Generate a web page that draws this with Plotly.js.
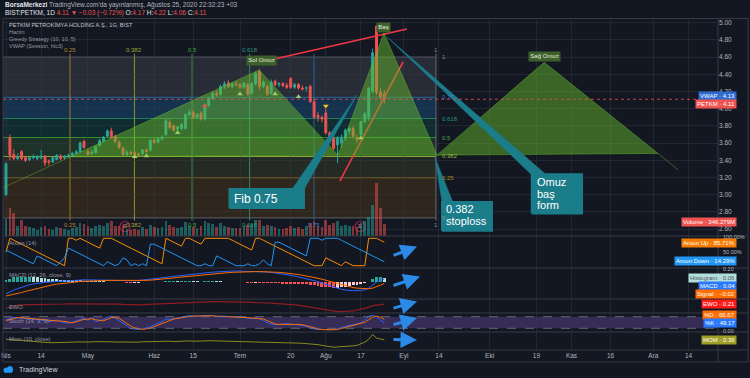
<!DOCTYPE html>
<html><head><meta charset="utf-8">
<script src="https://cdn.plot.ly/plotly-3.0.1.min.js"></script>
<style>html,body{margin:0;padding:0;background:#131722;overflow:hidden}#chart{width:750px;height:378px}</style>
</head><body><div id="chart"></div>
<script>
// ---------------- DATA ----------------
const openP = [3.00,3.66,3.47,3.42,3.50,3.43,3.41,3.43,3.42,3.43,
 3.45,3.39,3.38,3.41,3.45,3.43,3.44,3.46,3.48,3.50,
 3.62,3.50,3.48,3.49,3.57,3.62,3.68,3.74,3.68,3.61,
 3.54,3.47,3.49,3.49,3.47,3.48,3.52,3.52,3.63,3.61,
 3.65,3.70,3.84,3.80,3.76,3.77,3.77,3.93,3.96,3.90,
 3.95,3.88,4.04,4.12,4.18,4.17,4.26,4.30,4.26,4.29,
 4.28,4.25,4.28,4.18,4.29,4.43,4.26,4.26,4.18,4.32,
 4.28,4.29,4.27,4.35,4.25,4.28,4.24,4.24,4.26,4.08,
 3.92,3.90,3.95,3.72,3.66,3.58,3.60,3.66,3.74,3.77,
 3.66,3.70,3.85,3.90,4.20,4.96,4.19,4.17];
const highP = [3.38,3.70,3.53,3.48,3.52,3.45,3.45,3.47,3.46,3.52,
 3.46,3.41,3.44,3.47,3.47,3.46,3.47,3.50,3.52,3.62,
 3.64,3.53,3.52,3.57,3.65,3.68,3.76,3.78,3.70,3.63,
 3.56,3.52,3.51,3.50,3.49,3.53,3.54,3.65,3.66,3.67,
 3.69,3.88,3.88,3.82,3.80,3.83,3.95,3.99,3.98,3.95,
 3.97,4.06,4.14,4.20,4.21,4.28,4.32,4.33,4.31,4.32,
 4.30,4.31,4.30,4.31,4.43,4.46,4.33,4.28,4.34,4.34,
 4.31,4.31,4.30,4.37,4.30,4.30,4.27,4.26,4.28,4.12,
 3.96,3.92,4.00,3.74,3.68,3.68,3.70,3.77,3.79,3.80,
 3.70,3.86,3.96,4.25,4.70,4.97,4.24,4.22];
const lowP = [2.98,3.40,3.40,3.40,3.40,3.38,3.39,3.41,3.40,3.41,
 3.33,3.34,3.37,3.40,3.40,3.41,3.43,3.45,3.47,3.49,
 3.53,3.45,3.46,3.48,3.56,3.61,3.67,3.65,3.60,3.53,
 3.45,3.45,3.46,3.45,3.44,3.46,3.49,3.50,3.59,3.60,
 3.63,3.68,3.76,3.73,3.74,3.75,3.76,3.91,3.88,3.88,
 3.86,3.86,4.02,4.10,4.14,4.15,4.23,4.24,4.24,4.26,
 4.23,4.23,4.15,4.16,4.27,4.22,4.24,4.15,4.16,4.26,
 4.25,4.25,4.23,4.23,4.23,4.22,4.21,4.20,4.07,3.88,
 3.85,3.84,3.70,3.65,3.52,3.37,3.55,3.63,3.70,3.66,
 3.60,3.68,3.83,3.86,4.18,4.16,4.10,4.06];
const closeP = [3.36,3.46,3.42,3.44,3.42,3.40,3.43,3.44,3.44,3.45,
 3.37,3.38,3.43,3.46,3.42,3.45,3.46,3.48,3.50,3.60,
 3.55,3.47,3.49,3.56,3.63,3.67,3.74,3.67,3.62,3.55,
 3.47,3.49,3.48,3.47,3.46,3.52,3.50,3.63,3.61,3.65,
 3.67,3.86,3.78,3.75,3.79,3.82,3.93,3.96,3.90,3.93,
 3.88,4.04,4.12,4.18,4.16,4.26,4.29,4.26,4.29,4.28,
 4.25,4.30,4.17,4.29,4.41,4.26,4.31,4.17,4.31,4.28,
 4.29,4.27,4.25,4.25,4.28,4.24,4.23,4.24,4.08,3.90,
 3.90,3.88,3.72,3.67,3.54,3.66,3.67,3.75,3.77,3.68,
 3.64,3.85,3.94,4.24,4.65,4.19,4.14,4.11];
const volumeM = [500,800,660,280,460,300,250,220,180,260,
 300,200,180,250,230,200,180,220,260,380,
 350,280,220,300,330,300,380,420,300,280,
 320,200,180,200,170,250,200,320,250,230,
 260,420,330,250,220,260,400,300,260,220,
 280,420,380,350,260,380,300,260,240,220,
 230,300,330,360,450,470,300,330,300,260,
 200,210,230,300,220,250,200,300,380,420,
 300,260,450,320,380,420,300,330,280,300,
 260,380,420,560,890,1530,800,346];
const aroonUp = [50,100,92.86,85.71,78.57,71.43,64.29,57.14,50,42.86,
 35.71,28.57,21.43,14.29,7.14,0,100,100,92.86,100,
 92.86,85.71,78.57,71.43,64.29,100,100,100,92.86,85.71,
 78.57,71.43,64.29,57.14,50,42.86,35.71,28.57,21.43,14.29,
 7.14,100,92.86,85.71,78.57,71.43,100,100,92.86,85.71,
 78.57,100,100,100,100,100,100,100,92.86,85.71,
 78.57,71.43,64.29,57.14,100,100,92.86,85.71,78.57,71.43,
 64.29,57.14,50,42.86,35.71,28.57,21.43,14.29,7.14,0,
 0,0,28.57,21.43,14.29,7.14,0,14.29,7.14,0,
 0,0,0,100,100,100,92.86,85.71];
const aroonDown = [57.14,50,42.86,35.71,28.57,21.43,14.29,7.14,35.71,28.57,
 21.43,14.29,7.14,0,14.29,28.57,64.29,57.14,50,42.86,
 35.71,28.57,21.43,14.29,7.14,0,14.29,7.14,0,7.14,
 28.57,21.43,0,7.14,0,7.14,0,78.57,78.57,71.43,
 64.29,57.14,50,42.86,35.71,28.57,21.43,14.29,7.14,0,
 0,7.14,0,0,35.71,28.57,21.43,14.29,7.14,0,
 0,0,7.14,0,0,7.14,21.43,7.14,0,85.71,
 85.71,78.57,71.43,64.29,57.14,50,42.86,35.71,100,100,
 100,92.86,100,100,100,100,92.86,85.71,78.57,71.43,
 64.29,57.14,50,42.86,35.71,28.57,21.43,14.29];
const macdLine = [-0.17,-0.14,-0.115,-0.095,-0.075,-0.055,-0.04,-0.028,-0.018,-0.01,
 -0.004,0.0,0.004,0.008,0.012,0.018,0.024,0.028,0.03,0.031,
 0.031,0.03,0.03,0.031,0.033,0.032,0.029,0.025,0.022,0.02,
 0.018,0.017,0.017,0.018,0.021,0.026,0.032,0.038,0.045,0.052,
 0.06,0.068,0.075,0.082,0.088,0.094,0.1,0.106,0.112,0.118,
 0.124,0.13,0.135,0.14,0.145,0.149,0.152,0.155,0.157,0.157,
 0.156,0.155,0.153,0.152,0.153,0.152,0.148,0.143,0.137,0.13,
 0.122,0.113,0.104,0.094,0.084,0.073,0.062,0.05,0.036,0.02,
 0.003,-0.015,-0.035,-0.055,-0.075,-0.09,-0.105,-0.115,-0.122,-0.125,
 -0.124,-0.12,-0.112,-0.09,-0.05,0.0,0.025,0.04];
const signalLine = [-0.20,-0.19,-0.18,-0.165,-0.15,-0.135,-0.12,-0.105,-0.09,-0.076,
 -0.063,-0.051,-0.04,-0.031,-0.023,-0.016,-0.009,-0.003,0.002,0.007,
 0.011,0.014,0.017,0.019,0.021,0.023,0.024,0.024,0.024,0.023,
 0.022,0.021,0.02,0.02,0.02,0.021,0.023,0.026,0.03,0.035,
 0.04,0.046,0.052,0.058,0.065,0.071,0.077,0.083,0.089,0.095,
 0.1,0.106,0.111,0.116,0.121,0.126,0.13,0.134,0.138,0.141,
 0.143,0.145,0.146,0.147,0.148,0.148,0.148,0.147,0.145,0.142,
 0.138,0.133,0.128,0.121,0.114,0.106,0.097,0.088,0.078,0.066,
 0.053,0.04,0.025,0.009,-0.008,-0.024,-0.04,-0.055,-0.068,-0.079,
 -0.088,-0.094,-0.098,-0.097,-0.088,-0.07,-0.045,-0.02];
const macdHist = [0.03,0.05,0.065,0.07,0.075,0.078,0.078,0.075,0.07,0.064,
 0.057,0.05,0.044,0.039,0.035,0.033,0.031,0.029,0.026,0.023,
 0.02,0.016,0.013,0.011,0.01,0.008,0.005,0.002,-0.002,-0.004,
 -0.006,-0.008,-0.009,-0.009,-0.008,-0.006,-0.004,-0.002,0.001,0.003,
 0.005,0.008,0.009,0.009,0.008,0.008,0.009,0.01,0.009,0.008,
 0.007,0.008,0.009,0.01,0.009,0.008,0.006,0.004,0.002,-0.001,
 -0.004,-0.006,-0.009,-0.01,-0.009,-0.01,-0.012,-0.015,-0.017,-0.019,
 -0.021,-0.022,-0.023,-0.024,-0.026,-0.028,-0.031,-0.035,-0.042,-0.05,
 -0.058,-0.066,-0.073,-0.078,-0.08,-0.079,-0.074,-0.066,-0.056,-0.046,
 -0.036,-0.026,-0.014,0.006,0.038,0.068,0.072,0.06];
const ewoVals = [0.02,0.08,0.12,0.16,0.18,0.19,0.19,0.19,0.19,0.2,
 0.2,0.2,0.21,0.21,0.22,0.22,0.23,0.23,0.24,0.24,
 0.24,0.24,0.23,0.23,0.22,0.22,0.22,0.22,0.21,0.21,
 0.2,0.19,0.18,0.175,0.18,0.19,0.2,0.21,0.21,0.22,
 0.23,0.24,0.25,0.25,0.26,0.26,0.27,0.28,0.29,0.3,
 0.31,0.32,0.33,0.335,0.34,0.34,0.34,0.34,0.335,0.33,
 0.325,0.32,0.31,0.3,0.3,0.29,0.28,0.27,0.26,0.25,
 0.24,0.23,0.22,0.2,0.18,0.16,0.13,0.1,0.07,0.04,
 0.0,-0.04,-0.08,-0.11,-0.14,-0.16,-0.16,-0.155,-0.14,-0.125,
 -0.09,-0.05,-0.01,0.05,0.14,0.17,0.19,0.21];
const stochK = [62,72,77,75,73,72,70,68,66,65,
 60,55,58,62,54,50,46,52,60,68,
 72,62,75,54,58,65,78,82,72,58,
 44,30,20,16,14,16,20,28,38,46,
 54,68,66,70,76,78,82,85,83,84,
 82,85,86,84,80,82,83,80,81,80,
 78,76,72,70,74,70,60,48,42,38,
 40,43,44,42,40,38,35,30,22,16,
 14,13,12,12,13,18,25,30,35,38,
 42,48,62,82,88,80,62,49.17];
const stochD = [60,65,70,75,75,73,72,70,68,66,
 64,60,58,58,58,55,50,49,53,60,
 67,67,70,64,62,59,67,75,77,71,
 58,44,31,22,17,15,17,21,29,37,
 46,56,63,68,71,75,79,82,83,84,
 83,84,84,85,83,82,82,82,81,80,
 80,78,75,73,72,71,68,59,50,43,
 40,40,42,43,42,40,38,34,29,23,
 17,14,13,12,12,14,19,24,30,34,
 38,43,51,64,77,83,77,66.67];
const momVals = [0.45,0.40,0.38,0.35,0.30,0.25,0.20,0.12,0.05,0.0,
 -0.03,-0.02,-0.03,0.0,-0.02,-0.03,0.0,0.02,0.05,0.08,
 0.07,0.04,0.08,0.12,0.14,0.16,0.13,0.10,0.07,0.05,
 0.03,0.04,0.06,0.07,0.05,0.10,0.12,0.17,0.18,0.21,
 0.24,0.26,0.18,0.13,0.17,0.22,0.24,0.22,0.18,0.16,
 0.18,0.22,0.25,0.24,0.22,0.24,0.22,0.19,0.17,0.15,
 0.13,0.12,0.07,0.10,0.12,0.08,0.06,0.03,0.05,0.02,
 -0.01,-0.03,-0.02,-0.04,-0.06,-0.09,-0.11,-0.14,-0.18,-0.24,
 -0.30,-0.40,-0.50,-0.58,-0.66,-0.62,-0.60,-0.55,-0.50,-0.47,
 -0.40,-0.20,0.05,0.45,1.11,0.62,0.45,0.36];

// time axis (bar index of each label) and price ticks
const tickIdx  = [0,9,21,38,48,60,73,82,91,102,111,124,136,145,155,166,175];
const tickText = ['Nis','14','May','Haz','15','Tem','20','Ağu','17','Eyl','14','Eki','19','Kas','16','Ara','14'];
const priceTicks = [2.6,2.8,3.0,3.2,3.4,3.6,3.8,4.0,4.2,4.4,4.6,4.8,5.0];

// drawings (bar index / price)
const fibRatios = [0,0.25,0.382,0.5,0.618,0.75,1];
const fibLowPrice = 2.73, fibHighPrice = 4.60;
const fibTimeRatios = [0.25,0.382,0.5,0.618,0.75,1];
const fibTimeStart = -14.87, fibTimeEnd = 110.26;
const hsX = [16.4,64.9,85.1,96.9,110.5,138.0,167.2];
const hsY = [3.44,4.45,3.46,4.88,3.46,4.54,3.48];
const hsLeadX = [-0.8,16.4], hsLeadY = [3.08,3.44];
const hsTailX = [167.2,172.3], hsTailY = [3.48,3.29];
const trendAX = [67.7,102.8], trendAY = [4.566,4.927];
const trendBX = [85.6,101.8], trendBY = [3.159,4.543];
const greedyUpIdx = [33,36,44,60,69,75,91], greedyUpPrice = [3.44,3.45,3.72,4.17,4.17,4.14,3.66];
const greedyDnIdx = [51], greedyDnPrice = [4.03];
const greedyWarnIdx = [82], greedyWarnPrice = [4.03];
const earnIdx = [30.5,90.8], earnPrice = [2.63,2.63];
const lastPrice = 4.11;

// ---------------- helpers ----------------
const W = 750, H = 378;
const px = v => v / W, py = v => 1 - v / H;
const bars = openP.map((_, i) => i);
const FONT = 'Liberation Sans, Arial, sans-serif';
const GRAY = '#b2b5be', DIM = '#9598a1';
const GRID = 'rgba(54,58,69,0.45)';

const traces = [];
traces.push({type:'bar', x:bars, y:volumeM, xaxis:'x', yaxis:'y7', width:0.7,
  marker:{color: bars.map(i => closeP[i] >= openP[i] ? 'rgba(38,166,154,0.5)' : 'rgba(239,83,80,0.5)'), line:{width:0}}});
traces.push({type:'candlestick', x:bars, open:openP, high:highP, low:lowP, close:closeP, xaxis:'x', yaxis:'y',
  whiskerwidth:0,
  increasing:{line:{color:'#26a69a', width:1}, fillcolor:'#26a69a'},
  decreasing:{line:{color:'#ef5350', width:1}, fillcolor:'#ef5350'}});
traces.push({type:'scatter', mode:'lines', x:trendAX, y:trendAY, line:{color:'#f23645', width:1.6}, xaxis:'x', yaxis:'y'});
traces.push({type:'scatter', mode:'lines', x:trendBX, y:trendBY, line:{color:'#f23645', width:1.6}, xaxis:'x', yaxis:'y'});
const triX = [], triY = [];
for (let k = 0; k + 2 < hsX.length; k += 2) {
  triX.push(hsX[k], hsX[k+1], hsX[k+2], hsX[k], null);
  triY.push(hsY[k], hsY[k+1], hsY[k+2], hsY[k], null);
}
const HSFILL = 'rgba(105,190,45,0.47)';
traces.push({type:'scatter', mode:'lines', x:triX, y:triY, fill:'toself', fillcolor:HSFILL,
  line:{color:'rgba(105,190,45,0.55)', width:0.8}, connectgaps:false, xaxis:'x', yaxis:'y'});
traces.push({type:'scatter', mode:'lines', x:hsLeadX, y:hsLeadY, line:{color:'rgba(105,190,45,0.55)', width:0.8}, xaxis:'x', yaxis:'y'});
traces.push({type:'scatter', mode:'lines', x:hsTailX, y:hsTailY, line:{color:'rgba(105,190,45,0.55)', width:0.8}, xaxis:'x', yaxis:'y'});
traces.push({type:'scatter', mode:'markers', x:greedyUpIdx, y:greedyUpPrice, marker:{symbol:'triangle-up', size:5, color:'#9ccc65'}, xaxis:'x', yaxis:'y'});
traces.push({type:'scatter', mode:'markers', x:greedyDnIdx, y:greedyDnPrice, marker:{symbol:'triangle-down', size:5, color:'#ef5350'}, xaxis:'x', yaxis:'y'});
traces.push({type:'scatter', mode:'markers', x:greedyWarnIdx, y:greedyWarnPrice, marker:{symbol:'triangle-down', size:5, color:'#f5c518'}, xaxis:'x', yaxis:'y'});
traces.push({type:'scatter', mode:'markers+text', x:earnIdx, y:earnPrice, text:['E','E'], textposition:'middle center',
  textfont:{size:6, color:'#e06a8a', family:FONT},
  marker:{symbol:'circle', size:10, color:'#131722', line:{color:'#9c1f4c', width:1.2}}, xaxis:'x', yaxis:'y'});

const TEAL = '#1b7c8a';
function callout(x0, x1, y0, y1, tail) {
  traces.push({type:'scatter', mode:'lines', x:[x0,x1,x1,x0,x0], y:[y0,y0,y1,y1,y0], fill:'toself', fillcolor:TEAL,
    line:{color:TEAL, width:2}, xaxis:'x', yaxis:'y'});
  traces.push({type:'scatter', mode:'lines', x:tail.map(p=>p[0]).concat([tail[0][0]]), y:tail.map(p=>p[1]).concat([tail[0][1]]),
    fill:'toself', fillcolor:TEAL, line:{color:TEAL, width:0.5}, xaxis:'x', yaxis:'y'});
}
callout(57.3, 76.4, 2.845, 3.066, [[73.3,3.06],[76.4,3.06],[90.0,4.16]]);
callout(111.8, 124.6, 2.58, 2.915, [[111.8,2.91],[114.6,2.91],[110.0,3.43]]);
callout(134.8, 147.7, 2.78, 3.237, [[134.8,3.23],[138.6,3.23],[97.7,4.834]]);

traces.push({type:'scatter', mode:'lines', x:bars, y:aroonUp, line:{color:'#fb8c00', width:1}, xaxis:'x', yaxis:'y2'});
traces.push({type:'scatter', mode:'lines', x:bars, y:aroonDown, line:{color:'#2196f3', width:1}, xaxis:'x', yaxis:'y2'});
const histColors = macdHist.map((h, i) => {
  const p = i ? macdHist[i-1] : h;
  return h >= 0 ? (h >= p ? '#26a69a' : '#b2dfdb') : (h < p ? '#ff5252' : '#ffcdd2');
});
traces.push({type:'bar', x:bars, y:macdHist, width:0.75, marker:{color:histColors, line:{width:0}}, xaxis:'x', yaxis:'y3'});
traces.push({type:'scatter', mode:'lines', x:bars, y:macdLine, line:{color:'#2962ff', width:1}, xaxis:'x', yaxis:'y3'});
traces.push({type:'scatter', mode:'lines', x:bars, y:signalLine, line:{color:'#ff6d00', width:1}, xaxis:'x', yaxis:'y3'});
traces.push({type:'scatter', mode:'lines', x:bars, y:ewoVals, line:{color:'#8e1c22', width:1.2}, xaxis:'x', yaxis:'y4'});
traces.push({type:'scatter', mode:'lines', x:bars, y:stochK, line:{color:'#2962ff', width:1}, xaxis:'x', yaxis:'y5'});
traces.push({type:'scatter', mode:'lines', x:bars, y:stochD, line:{color:'#ff6d00', width:1}, xaxis:'x', yaxis:'y5'});
traces.push({type:'scatter', mode:'lines', x:bars, y:momVals, line:{color:'#8a8a1c', width:1}, xaxis:'x', yaxis:'y6'});

// ---------------- shapes ----------------
const shapes = [];
const fibBandColors = ['rgba(255,152,0,0.12)','rgba(205,220,57,0.10)','rgba(76,175,80,0.18)','rgba(8,153,129,0.16)','rgba(33,150,243,0.22)','rgba(120,123,134,0.22)'];
const fibLineColors = ['#5d606b','#8f7420','#8aa83a','#2f8f2f','#1f7f5f','#2a6496','#5d606b'];
const fibPrice = r => fibLowPrice + r * (fibHighPrice - fibLowPrice);
for (let k = 0; k + 1 < fibRatios.length; k++) {
  shapes.push({type:'rect', layer:'below', xref:'x', yref:'y', x0:-1, x1:fibTimeEnd, y0:fibPrice(fibRatios[k]), y1:fibPrice(fibRatios[k+1]),
    fillcolor:fibBandColors[k], line:{width:0}});
}
fibRatios.forEach((r, k) => shapes.push({type:'line', layer:'below', xref:'x', yref:'y', x0:-1, x1:fibTimeEnd, y0:fibPrice(r), y1:fibPrice(r),
  line:{color:fibLineColors[k], width:1}}));
const timeColors = ['#9c7a22','#8a9a28','#3c8a3c','#2e8a6e','#2a6496','#6b6e78'];
const fibTime = r => fibTimeStart + r * (fibTimeEnd - fibTimeStart);
fibTimeRatios.forEach((r, k) => shapes.push({type:'line', layer:'below', xref:'x', yref:'y', x0:fibTime(r), x1:fibTime(r), y0:2.70, y1:4.64,
  line:{color:timeColors[k], width:1}}));
shapes.push({type:'line', xref:'paper', yref:'y', x0:px(3), x1:px(718), y0:lastPrice, y1:lastPrice, line:{color:'rgba(239,83,80,0.8)', width:1, dash:'dot'}});
shapes.push({type:'rect', layer:'below', xref:'paper', yref:'y5', x0:px(3), x1:px(718), y0:20, y1:80, fillcolor:'rgba(126,87,194,0.33)', line:{width:0}});
[20,80].forEach(v => shapes.push({type:'line', xref:'paper', yref:'y5', x0:px(3), x1:px(718), y0:v, y1:v, line:{color:'#787b86', width:0.8, dash:'dash'}}));
[236,268,299,313,332,350].forEach(y => shapes.push({type:'line', xref:'paper', yref:'paper', x0:px(3), x1:px(748), y0:py(y), y1:py(y), line:{color:'#363a45', width:1}}));
shapes.push({type:'rect', xref:'paper', yref:'paper', x0:px(3), x1:px(748), y0:py(362), y1:py(18.5), line:{color:'#363a45', width:1}});
shapes.push({type:'line', xref:'paper', yref:'paper', x0:px(718), x1:px(718), y0:py(362), y1:py(18.5), line:{color:'#363a45', width:1}});
shapes.push({type:'circle', xref:'paper', yref:'paper', x0:px(3.5), x1:px(9), y0:py(373), y1:py(367.5), fillcolor:'#2196f3', line:{width:0}});
shapes.push({type:'circle', xref:'paper', yref:'paper', x0:px(7), x1:px(13), y0:py(373), y1:py(366), fillcolor:'#2196f3', line:{width:0}});

// ---------------- annotations ----------------
const ann = [];
function txt(x, y, text, size, color, xanchor, extra) {
  ann.push(Object.assign({xref:'paper', yref:'paper', x:px(x), y:py(y), text, showarrow:false, xanchor:xanchor||'left', yanchor:'middle',
    font:{family:FONT, size, color}}, extra||{}));
}
txt(2.5, 5.5, '<b>BorsaMerkezi</b><span style="color:#b2b5be"> TradingView.com\'da yayınlanmış, Ağustos 25, 2020 22:32:23 +03</span>', 6.5, '#e0e3eb');
txt(2.5, 13.5, 'BIST:PETKM, 1D <span style="color:#ef5350">4.11 ▼ −0.03 (−0.72%)</span> O:<span style="color:#ef5350">4.17</span> H:<span style="color:#ef5350">4.22</span> L:<span style="color:#ef5350">4.06</span> C:<span style="color:#ef5350">4.11</span>', 6.5, '#e0e3eb');
txt(7, 25, 'PETKİM PETROKİMYA HOLDİNG A.Ş., 1G, BIST', 5.6, '#c3c6ce');
txt(7, 32.3, 'Hacim', 5.5, DIM);
txt(7, 39.3, 'Greedy Strategy (10, 10, 5)', 5.5, DIM);
txt(7, 46, 'VWAP (Session, hlc3)', 5.5, DIM);
txt(7, 243, 'Aroon (14)', 5.8, DIM);
txt(7, 275, 'MACD (12, 26, close, 9)', 5.8, DIM);
txt(7, 306.7, 'EWO', 5.8, DIM);
txt(7, 320.7, 'Stoch (14, 3, 3)', 5.8, DIM);
txt(7, 339.3, 'Mom (10, close)', 5.8, DIM);
txt(17, 370, 'TradingView', 7, '#d1d4dc');
txt(721, 237.3, '100.00%', 5.5, GRAY);
txt(721, 252, '50.00%', 5.5, GRAY);
txt(721, 268.5, '0.20', 5.5, GRAY);
txt(721, 331, '0.00', 5.5, GRAY);
function tag(y, text, bg, color) {
  ann.push({xref:'paper', yref:'paper', x:px(737), y:py(y), text, showarrow:false, xanchor:'right', yanchor:'middle',
    bgcolor:bg, borderpad:1, font:{family:FONT, size:6, color:color||'#ffffff'}});
}
tag(96.3, 'VWAP · 4.13', '#2e6bd1');
tag(104.3, 'PETKM · 4.11', '#ef5350');
tag(222.3, 'Volume · 346.279M', '#ef5350');
tag(242.6, 'Aroon Up · 85.71%', '#f57c00');
tag(261, 'Aroon Down · 14.29%', '#2196f3');
tag(278.3, 'Histogram · 0.06', '#b2dfdb', '#50535e');
tag(286.3, 'MACD · 0.04', '#2979ff');
tag(294.3, 'Signal · −0.02', '#ff6d00');
tag(304, 'EWO · 0.21', '#ff1a1a');
tag(315, '%D · 66.67', '#ff6d00');
tag(322.7, '%K · 49.17', '#2979ff');
tag(340.3, 'MOM · 0.36', '#9e9d24');
const fibLabelColors = ['#8a8d96','#b08a2a','#9aba44','#43a843','#2a9a72','#3b7ac0','#8a8d96'];
fibRatios.forEach((r, k) => ann.push({xref:'x', yref:'y', x:111.3, y:fibPrice(r), text:String(r), showarrow:false, xanchor:'left', yanchor:'middle',
  font:{family:FONT, size:6, color:fibLabelColors[k]}}));
const timeLabelColors = ['#b08a2a','#9aaa30','#43a843','#2e9a76','#3b7ac0','#8a8d96'];
fibTimeRatios.forEach((r, k) => {
  if (r !== 0.75) ann.push({xref:'x', yref:'y', x:fibTime(r), y:4.68, text:String(r), showarrow:false, xanchor:'center', yanchor:'middle', font:{family:FONT, size:6, color:timeLabelColors[k]}});
  ann.push({xref:'x', yref:'y', x:fibTime(r), y:2.648, text:String(r), showarrow:false, xanchor:'center', yanchor:'middle', font:{family:FONT, size:6, color:timeLabelColors[k]}});
});
function plabel(x, y, text) {
  ann.push({xref:'x', yref:'y', x, y, text, showarrow:false, xanchor:'center', yanchor:'middle', bgcolor:'#3d5f2c', borderpad:1.3,
    font:{family:FONT, size:6, color:'#e8ecdf'}});
}
plabel(65.6, 4.56, 'Sol Omuz');
plabel(96.8, 4.95, 'Baş');
plabel(138.1, 4.61, 'Sağ Omuz');
function ctext(x, y, text, size) {
  ann.push({xref:'x', yref:'y', x, y, text, showarrow:false, xanchor:'left', yanchor:'middle', font:{family:FONT, size:size||12, color:'#ffffff'}});
}
ctext(58.0, 2.953, 'Fib 0.75', 12);
ctext(112.4, 2.83, '0.382', 11);
ctext(112.4, 2.69, 'stoploss', 11);
ctext(135.6, 3.145, 'Omuz', 11);
ctext(135.6, 3.01, 'baş', 11);
ctext(135.6, 2.875, 'form', 11);
function arrow(hx, hy, tx, ty) {
  ann.push({xref:'paper', yref:'paper', x:px(hx), y:py(hy), ax:tx-hx, ay:ty-hy, text:'', showarrow:true,
    arrowcolor:'#2b8ae6', arrowwidth:3, arrowhead:2, arrowsize:1.1});
}
arrow(417, 246.5, 392, 256);
arrow(420, 276.5, 392, 286);
arrow(417, 301.5, 392, 308.5);
arrow(417, 318, 392, 325);
arrow(417, 340, 392, 339.5);

// ---------------- layout ----------------
const hidden = {showticklabels:false, showgrid:false, zeroline:false, showline:false, ticks:'', fixedrange:true};
const layout = {
  width:W, height:H, margin:{l:0, r:0, t:0, b:0},
  paper_bgcolor:'#131722', plot_bgcolor:'rgba(0,0,0,0)',
  showlegend:false, hovermode:false, bargap:0,
  font:{family:FONT, color:GRAY},
  xaxis:{domain:[px(3), px(718)], range:[-0.77, 182.56], anchor:'y6', tickvals:tickIdx, ticktext:tickText,
    tickfont:{size:6.5, color:GRAY}, ticks:'', showgrid:true, gridcolor:GRID, gridwidth:1, zeroline:false, showline:false,
    rangeslider:{visible:false}, fixedrange:true},
  yaxis:{domain:[py(236), py(18.5)], range:[2.5198, 5.0488], side:'right', anchor:'x', tickvals:priceTicks,
    ticktext:priceTicks.map(v => v.toFixed(2)), tickfont:{size:6.5, color:GRAY}, ticks:'', showgrid:true, gridcolor:GRID,
    zeroline:false, showline:false, fixedrange:true},
  yaxis7:Object.assign({overlaying:'y', range:[0, 6264], anchor:'x', side:'right'}, hidden),
  yaxis2:Object.assign({domain:[py(268), py(236)], range:[-8.4, 108.4], anchor:'x'}, hidden),
  yaxis3:Object.assign({domain:[py(299), py(268)], range:[-0.243, 0.2], anchor:'x'}, hidden),
  yaxis4:Object.assign({domain:[py(313), py(299)], range:[-0.23, 0.47], anchor:'x'}, hidden),
  yaxis5:Object.assign({domain:[py(332), py(313)], range:[0.9, 99.1], anchor:'x'}, hidden),
  yaxis6:Object.assign({domain:[py(350), py(332)], range:[-1.05, 1.47], anchor:'x'}, hidden),
  shapes, annotations:ann
};
Plotly.newPlot('chart', traces, layout, {staticPlot:true, displayModeBar:false});
</script></body></html>
